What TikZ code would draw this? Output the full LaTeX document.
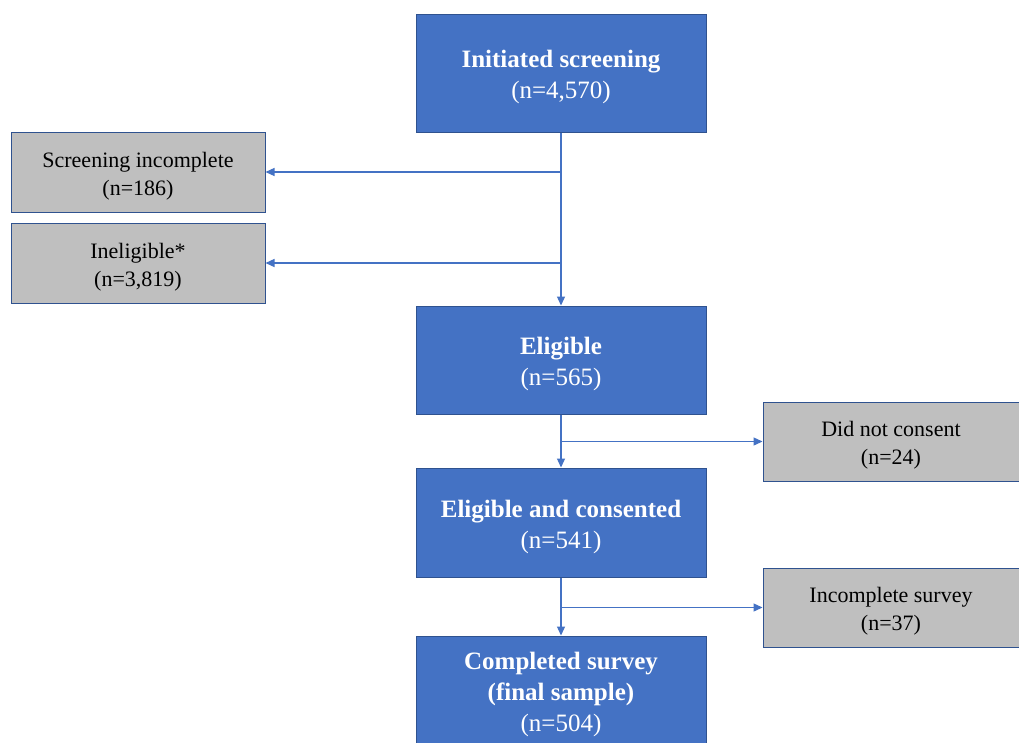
\documentclass[tikz,border=0pt]{standalone}
\usepackage{fontspec}
\setmainfont{Liberation Serif}
\usetikzlibrary{arrows.meta}
\definecolor{bfill}{HTML}{4472C4}
\definecolor{bdraw}{HTML}{2F528F}
\definecolor{gfill}{HTML}{BFBFBF}
\definecolor{lcol}{HTML}{4472C4}
\newcommand\topgap{\rule{0pt}{1.05em}}
\tikzset{
  bluebox/.style={draw=bdraw, line width=1pt, fill=bfill, text=white, align=center,
    minimum width=290pt, inner sep=0pt, font=\fontsize{25}{31}\selectfont},
  graybox/.style={draw=bdraw, line width=1pt, fill=gfill, text=black, align=center,
    minimum width=254pt, minimum height=80pt, inner sep=0pt, font=\fontsize{22}{28}\selectfont},
  conn/.style={draw=lcol, line width=1.3pt, -{Triangle[length=9pt,width=8pt]}}
}
\begin{document}
\begin{tikzpicture}[x=1pt,y=-1pt]
\useasboundingbox (0,0) rectangle (1019,742);
\clip (0,0) rectangle (1019,742);
\fill[white] (0,0) rectangle (1019,742);
% blue boxes
\node[bluebox, minimum height=118pt] (init) at (561,73) {\topgap\textbf{Initiated screening}\\(n=4,570)};
\node[bluebox, minimum height=108pt] (elig) at (561,360) {\topgap\textbf{Eligible}\\(n=565)};
\node[bluebox, minimum height=109pt] (cons) at (561,522.5) {\topgap\textbf{Eligible and consented}\\(n=541)};
\node[bluebox, minimum height=116pt] (comp) at (561,694) {\textbf{Completed survey}\\\textbf{(final sample)}\\(n=504)};
% gray boxes
\node[graybox] (scr) at (138,172) {\topgap Screening incomplete\\(n=186)};
\node[graybox] (inel) at (138,263) {\topgap Ineligible*\\(n=3,819)};
\node[graybox, minimum width=256pt, minimum height=79pt] (dnc) at (891,441.5) {\topgap Did not consent\\(n=24)};
\node[graybox, minimum width=256pt, minimum height=79pt] (incs) at (891,607.5) {\topgap Incomplete survey\\(n=37)};
% connectors
\coordinate (j1) at (init.south |- scr.east);
\coordinate (j2) at (init.south |- inel.east);
\coordinate (j3) at (elig.south |- dnc.west);
\coordinate (j4) at (cons.south |- incs.west);
\draw[conn] (init.south) -- (elig.north);
\draw[conn] (j1) -- (scr.east);
\draw[conn] (j2) -- (inel.east);
\draw[conn] (elig.south) -- (cons.north);
\draw[conn] (j3) -- (dnc.west);
\draw[conn] (cons.south) -- (comp.north);
\draw[conn] (j4) -- (incs.west);
\end{tikzpicture}
\end{document}
